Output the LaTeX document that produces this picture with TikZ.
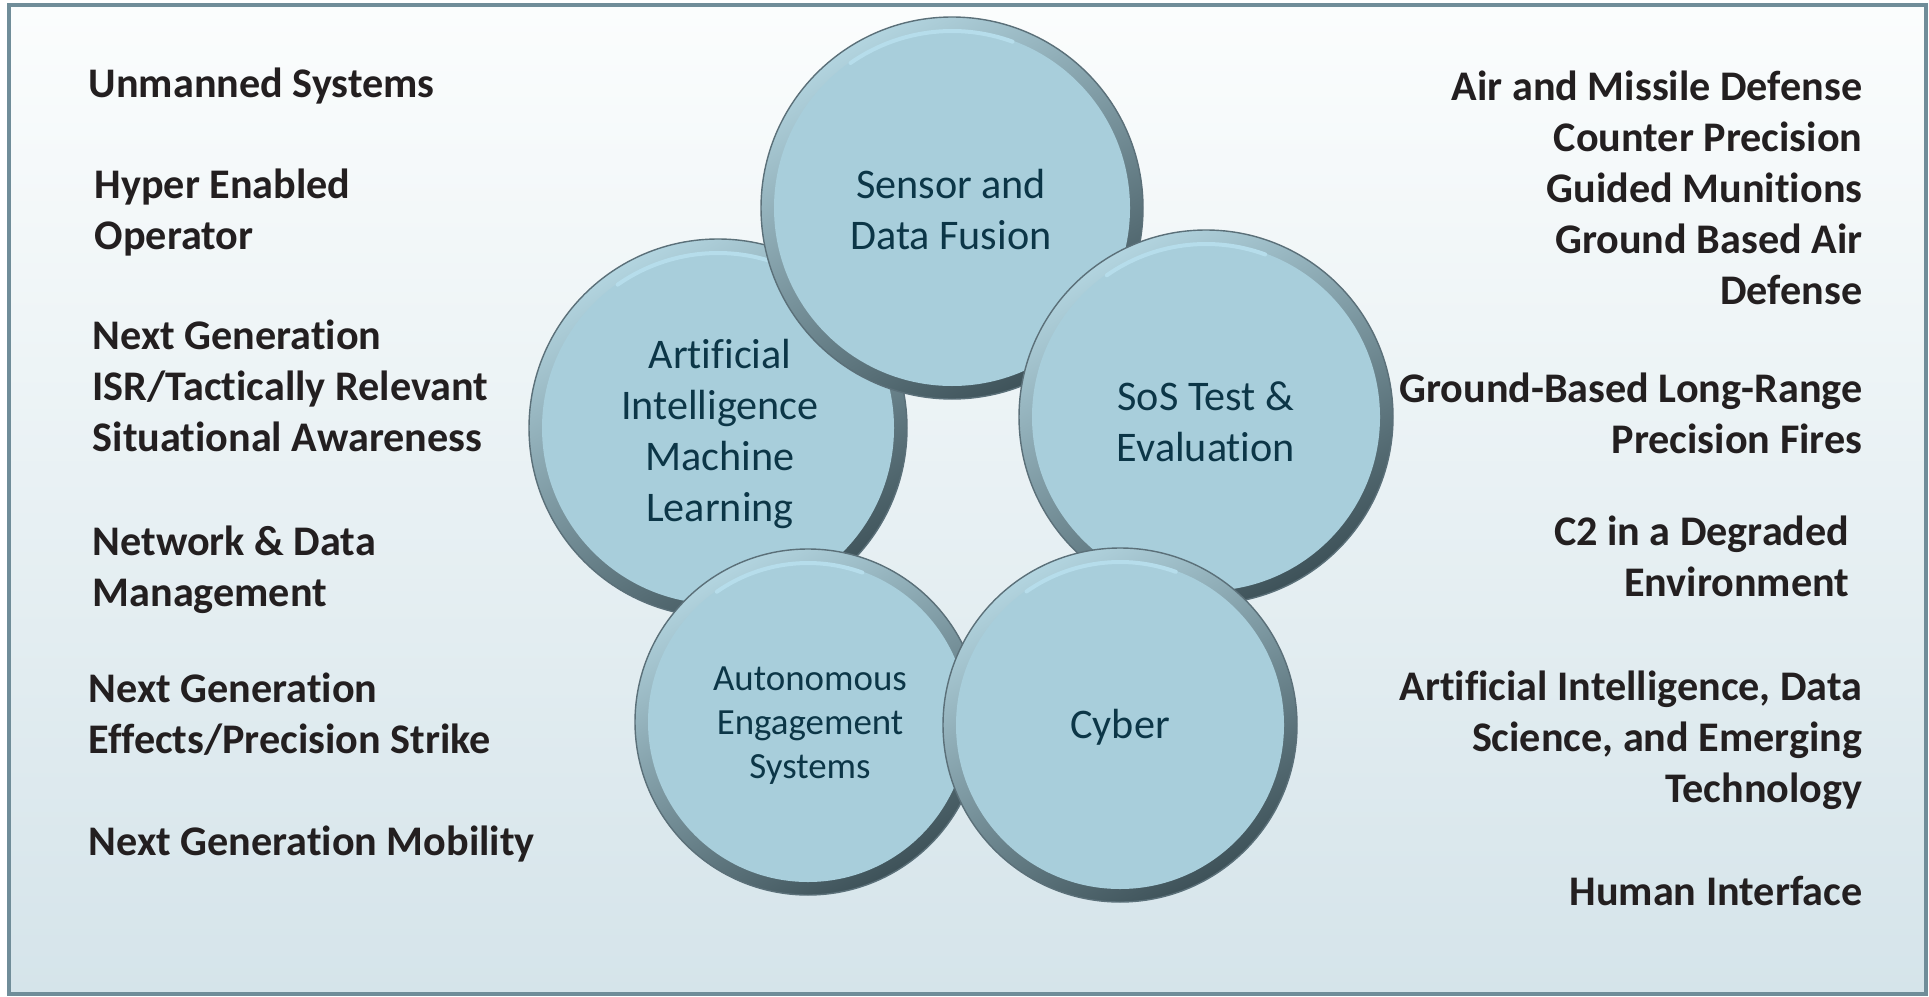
\documentclass[tikz,border=0pt]{standalone}
\usepackage{fontspec}
\setmainfont{Carlito}[Ligatures=NoCommon]
\usepackage{tikz}

\definecolor{bgtop}{HTML}{FBFDFD}
\definecolor{bgbottom}{HTML}{D5E4EA}
\definecolor{framecol}{HTML}{708D99}
\definecolor{rimlight}{HTML}{B2D4DF}
\definecolor{rimdark}{HTML}{3E5259}
\definecolor{rimline}{HTML}{5B7079}
\definecolor{discfill}{HTML}{A8CEDB}
\definecolor{discshine}{HTML}{B6DDEB}
\definecolor{textteal}{HTML}{0C3647}
\definecolor{textdark}{HTML}{231F20}

\tikzset{
  rim/.style={top color=rimlight, bottom color=rimdark, shading angle=30, draw=rimline, line width=0.4pt},
  disc/.style={fill=discfill},
  shine/.style={draw=discshine, line width=0.04cm, line cap=round},
  sidetext/.style={inner sep=0pt, text=textdark, font=\fontsize{12}{14.5}\selectfont\bfseries},
  disctext/.style={inner sep=0pt, text=textteal, align=center, anchor=north, font=\fontsize{12}{14.5}\selectfont},
}

\begin{document}
\begin{tikzpicture}
\useasboundingbox (0,0) rectangle (19.29,-9.96);
\fill[white] (0,0) rectangle (19.29,-9.96);
\shade[top color=bgtop, bottom color=bgbottom] (0.09,-0.055) rectangle (19.26,-9.94);
\draw[framecol, line width=0.04cm] (0.09,-0.055) rectangle (19.26,-9.94);

% circles, back to front
\shade[rim] (7.18,-4.28) circle (1.89);
\fill[disc] (7.18,-4.28) circle (1.76);
\draw[shine] ([shift={(125:1.75)}]7.18,-4.28) arc (125:70:1.75);

\shade[rim] (9.52,-2.08) circle (1.91);
\fill[disc] (9.52,-2.08) circle (1.78);
\draw[shine] ([shift={(125:1.77)}]9.52,-2.08) arc (125:70:1.77);

\shade[rim] (12.06,-4.17) circle (1.87);
\fill[disc] (12.06,-4.17) circle (1.74);
\draw[shine] ([shift={(125:1.73)}]12.06,-4.17) arc (125:70:1.73);

\shade[rim] (8.08,-7.22) circle (1.73);
\fill[disc] (8.08,-7.22) circle (1.60);
\draw[shine] ([shift={(125:1.59)}]8.08,-7.22) arc (125:70:1.59);

\shade[rim] (11.20,-7.25) circle (1.77);
\fill[disc] (11.20,-7.25) circle (1.64);
\draw[shine] ([shift={(125:1.63)}]11.20,-7.25) arc (125:70:1.63);

% circle labels
\node[disctext] (sensor) at (9.51,-1.623) {\strut Sensor and\\Data Fusion};
\node[disctext] (ai) at (7.20,-3.323) {\strut Artificial\\Intelligence\\Machine\\Learning};
\node[disctext] (sos) at (12.06,-3.743) {\strut SoS Test \&\\Evaluation};
\node[disctext, font=\fontsize{10.5}{12.5}\selectfont] (autonomous) at (8.10,-6.592) {\strut Autonomous\\Engagement\\Systems};
\node[disctext] (cyber) at (11.20,-7.023) {\strut Cyber};

% left column
\node[sidetext, anchor=north west, align=left] (unmanned) at (0.88,-0.613) {\strut Unmanned Systems};
\node[sidetext, anchor=north west, align=left] (hyper) at (0.94,-1.623) {\strut Hyper Enabled\\Operator};
\node[sidetext, anchor=north west, align=left] (isr) at (0.92,-3.133) {\strut Next Generation\\ISR/Tactically Relevant\\Situational Awareness};
\node[sidetext, anchor=north west, align=left] (network) at (0.92,-5.193) {\strut Network \& Data\\Management};
\node[sidetext, anchor=north west, align=left] (effects) at (0.88,-6.663) {\strut Next Generation\\Effects/Precision Strike};
\node[sidetext, anchor=north west, align=left] (mobility) at (0.88,-8.193) {\strut Next Generation Mobility};

% right column
\node[sidetext, anchor=north east, align=right] (airdefense) at (18.63,-0.643) {\strut Air and Missile Defense\\Counter Precision\\Guided Munitions\\Ground Based Air\\Defense};
\node[sidetext, anchor=north east, align=right] (fires) at (18.63,-3.663) {\strut Ground-Based Long-Range\\Precision Fires};
\node[sidetext, anchor=north east, align=right] (ctwo) at (18.50,-5.093) {\strut C2 in a Degraded\\Environment};
\node[sidetext, anchor=north east, align=right] (aidata) at (18.63,-6.643) {\strut Artificial Intelligence, Data\\Science, and Emerging\\Technology};
\node[sidetext, anchor=north east, align=right] (human) at (18.63,-8.693) {\strut Human Interface};
\end{tikzpicture}
\end{document}
